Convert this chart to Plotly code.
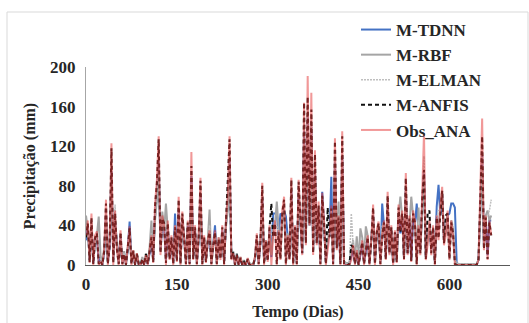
import plotly.graph_objects as go

# Days (3-day sampling of the daily series)
days = list(range(0, 670, 3))

obs_ana = [
    30, 45, 2, 52, 0, 30, 34, 0, 3, 0,
    15, 66, 0, 20, 123, 0, 55, 15, 0, 35,
    0, 10, 0, 20, 39, 0, 15, 0, 12, 0,
    0, 5, 0, 10, 0, 15, 30, 2, 62, 85,
    130, 10, 50, 40, 0, 45, 5, 30, 0, 40,
    3, 69, 0, 54, 30, 0, 45, 0, 114, 5,
    40, 0, 30, 88, 0, 30, 2, 25, 35, 0,
    20, 35, 0, 28, 5, 40, 0, 45, 70, 130,
    5, 12, 0, 10, 0, 8, 0, 2, 0, 7,
    0, 0, 0, 8, 32, 0, 25, 83, 0, 25,
    3, 40, 0, 30, 45, 0, 35, 5, 55, 69,
    0, 30, 5, 88, 0, 40, 0, 86, 50, 10,
    164, 20, 191, 40, 174, 10, 116, 20, 64, 0,
    73, 45, 0, 15, 30, 60, 0, 128, 15, 50,
    0, 135, 0, 0, 0, 0, 5, 20, 0, 15,
    0, 10, 25, 0, 15, 30, 0, 25, 61, 0,
    35, 44, 0, 30, 45, 5, 74, 10, 40, 0,
    35, 2, 61, 35, 55, 5, 93, 10, 50, 3,
    55, 45, 0, 40, 10, 70, 133, 5, 20, 45,
    10, 40, 0, 50, 25, 60, 79, 20, 30, 55,
    5, 45, 30, 0, 0, 0, 0, 0, 0, 0,
    0, 0, 0, 0, 0, 0, 5, 69, 148, 15,
    50, 5, 45, 30,
]

m_anfis = [
    28, 42, 3, 48, 1, 28, 32, 1, 4, 0,
    14, 62, 1, 19, 118, 2, 52, 16, 1, 33,
    1, 11, 0, 18, 37, 1, 14, 0, 11, 1,
    0, 6, 0, 11, 1, 14, 28, 3, 60, 82,
    127, 12, 47, 42, 2, 42, 6, 28, 1, 38,
    4, 66, 1, 52, 28, 1, 43, 1, 100, 6,
    38, 1, 28, 85, 1, 28, 3, 24, 33, 1,
    19, 33, 1, 26, 6, 38, 1, 43, 89, 127,
    6, 13, 0, 11, 0, 7, 0, 3, 0, 6,
    0, 0, 0, 7, 30, 1, 24, 80, 1, 24,
    4, 38, 62, 28, 42, 1, 33, 6, 52, 66,
    1, 28, 6, 86, 1, 38, 1, 84, 48, 12,
    164, 22, 170, 42, 157, 12, 112, 22, 60, 1,
    70, 43, 1, 58, 28, 57, 1, 125, 17, 48,
    1, 130, 1, 0, 0, 1, 20, 18, 1, 13,
    0, 11, 23, 1, 14, 28, 1, 24, 58, 1,
    33, 42, 1, 28, 43, 6, 70, 12, 38, 1,
    33, 3, 58, 33, 52, 6, 88, 12, 47, 4,
    52, 43, 1, 38, 12, 66, 96, 6, 52, 55,
    12, 38, 1, 48, 27, 57, 75, 22, 50, 52,
    6, 43, 32, 1, 0, 0, 0, 0, 0, 0,
    0, 0, 0, 0, 0, 0, 6, 66, 130, 16,
    48, 6, 43, 30,
]

m_tdnn = [
    25, 38, 5, 40, 2, 25, 28, 3, 8, 0,
    12, 50, 3, 18, 95, 5, 44, 20, 2, 28,
    2, 12, 1, 15, 44, 3, 12, 1, 10, 1,
    0, 5, 1, 9, 1, 12, 25, 5, 50, 70,
    105, 15, 40, 38, 5, 38, 8, 25, 2, 52,
    6, 55, 3, 45, 28, 3, 40, 2, 90, 8,
    35, 3, 25, 72, 3, 25, 5, 22, 30, 2,
    18, 40, 2, 25, 8, 35, 3, 40, 60, 105,
    8, 12, 1, 10, 1, 6, 0, 3, 0, 5,
    1, 0, 0, 6, 25, 3, 22, 68, 3, 22,
    6, 35, 8, 52, 52, 52, 30, 52, 50, 55,
    49, 28, 8, 75, 3, 35, 2, 72, 45, 12,
    135, 25, 150, 40, 140, 15, 95, 22, 55, 3,
    74, 40, 3, 25, 30, 89, 3, 105, 18, 45,
    3, 110, 3, 1, 1, 2, 8, 15, 2, 12,
    1, 12, 20, 3, 15, 25, 2, 22, 50, 3,
    30, 38, 3, 62, 40, 8, 62, 12, 35, 2,
    30, 5, 50, 32, 48, 8, 78, 12, 45, 5,
    48, 40, 62, 35, 15, 58, 95, 8, 30, 40,
    15, 35, 3, 59, 81, 50, 72, 25, 35, 50,
    52, 62, 62, 58, 2, 1, 1, 1, 1, 1,
    1, 1, 1, 1, 1, 1, 5, 55, 110, 18,
    45, 10, 45, 45,
]

m_rbf = [
    50, 35, 6, 42, 4, 22, 30, 49, 10, 1,
    18, 45, 3, 25, 90, 8, 40, 22, 3, 25,
    3, 14, 2, 18, 30, 4, 15, 2, 12, 2,
    1, 8, 2, 12, 2, 18, 45, 8, 45, 65,
    95, 18, 54, 35, 62, 35, 10, 25, 4, 35,
    8, 50, 4, 42, 30, 4, 38, 4, 80, 10,
    30, 4, 28, 65, 4, 28, 6, 25, 56, 3,
    22, 30, 3, 28, 10, 32, 4, 38, 55, 95,
    10, 14, 2, 12, 2, 8, 1, 5, 1, 6,
    2, 1, 1, 8, 22, 5, 25, 60, 4, 25,
    8, 30, 10, 35, 40, 64, 30, 10, 45, 55,
    8, 32, 10, 65, 4, 38, 3, 65, 45, 15,
    120, 25, 140, 40, 125, 15, 90, 22, 55, 4,
    60, 42, 4, 25, 32, 50, 4, 95, 20, 64,
    4, 100, 4, 2, 2, 3, 15, 25, 4, 29,
    4, 37, 28, 5, 39, 30, 4, 28, 48, 5,
    32, 40, 4, 35, 42, 8, 58, 12, 38, 3,
    32, 6, 50, 69, 48, 8, 75, 12, 45, 69,
    50, 45, 5, 58, 15, 55, 90, 8, 28, 42,
    15, 38, 4, 45, 40, 55, 75, 25, 35, 50,
    10, 45, 35, 5, 2, 1, 1, 1, 1, 1,
    1, 1, 1, 1, 1, 1, 5, 50, 100, 20,
    50, 55, 45, 50,
]

m_elman = [
    40, 40, 4, 45, 2, 25, 30, 6, 6, 0,
    15, 55, 2, 22, 105, 4, 61, 18, 2, 30,
    2, 12, 1, 17, 35, 2, 14, 1, 11, 1,
    0, 6, 1, 10, 1, 15, 32, 4, 55, 75,
    115, 14, 45, 40, 3, 40, 7, 28, 2, 40,
    5, 60, 2, 50, 28, 2, 42, 2, 95, 7,
    36, 2, 28, 80, 2, 28, 4, 25, 40, 2,
    20, 33, 2, 27, 7, 36, 2, 42, 75, 115,
    7, 13, 1, 11, 1, 7, 0, 4, 0, 6,
    1, 0, 0, 7, 28, 2, 24, 75, 2, 24,
    5, 36, 30, 32, 45, 40, 33, 7, 50, 62,
    3, 30, 7, 80, 2, 38, 2, 80, 48, 13,
    150, 22, 165, 42, 150, 13, 105, 22, 60, 2,
    68, 43, 2, 30, 30, 55, 2, 115, 18, 52,
    2, 120, 2, 1, 1, 2, 52, 20, 2, 18,
    1, 20, 25, 2, 25, 30, 2, 25, 55, 2,
    33, 42, 2, 40, 43, 7, 68, 12, 38, 2,
    33, 4, 55, 45, 52, 7, 85, 12, 47, 40,
    52, 44, 4, 45, 12, 62, 110, 7, 30, 45,
    12, 38, 2, 48, 55, 55, 76, 22, 33, 53,
    8, 45, 40, 2, 1, 1, 1, 1, 1, 1,
    1, 1, 1, 1, 1, 1, 6, 62, 125, 18,
    48, 50, 55, 66,
]

x_ticks = [0, 150, 300, 450, 600]
y_ticks = [0, 40, 80, 120, 160, 200]

FONT = "Liberation Serif"

fig = go.Figure()
fig.add_trace(go.Scatter(x=days, y=m_tdnn, mode="lines", name="M-TDNN",
                         line=dict(color="#4472C4", width=2), legendrank=1))
fig.add_trace(go.Scatter(x=days, y=m_rbf, mode="lines", name="M-RBF",
                         line=dict(color="#A5A5A5", width=2), legendrank=2))
fig.add_trace(go.Scatter(x=days, y=m_elman, mode="lines", name="M-ELMAN",
                         line=dict(color="#BFBFBF", width=1.5, dash="2px,1px"), legendrank=3))
fig.add_trace(go.Scatter(x=days, y=m_anfis, mode="lines", name="M-ANFIS",
                         line=dict(color="#111111", width=2, dash="4px,3px"), legendrank=4))
fig.add_trace(go.Scatter(x=days, y=obs_ana, mode="lines", name="Obs_ANA",
                         line=dict(color="rgba(228,50,50,0.5)", width=2), legendrank=5))

fig.update_layout(
    width=529, height=323,
    margin=dict(l=86, r=19, t=67, b=58),
    paper_bgcolor="white", plot_bgcolor="white",
    font=dict(family=FONT, size=17, color="#262626", weight="bold"),
    showlegend=True,
    legend=dict(x=(356 - 86) / 424, y=(265 - 12) / 198, xanchor="left", yanchor="top",
                bgcolor="rgba(0,0,0,0)", font=dict(family=FONT, size=17, color="#262626", weight="bold"),
                tracegroupgap=0, itemwidth=30),
    xaxis=dict(range=[0, 700], tickvals=x_ticks, showgrid=False, zeroline=False,
               showline=True, linecolor="#595959", linewidth=1, ticks="",
               tickfont=dict(family=FONT, size=17, weight="bold"), ticklabelstandoff=4,
               title=dict(text="Tempo (Dias)", font=dict(family=FONT, size=16, weight="bold"), standoff=12),
               automargin=False),
    yaxis=dict(range=[0, 200], tickvals=y_ticks, showgrid=False, zeroline=False,
               showline=True, linecolor="#A6A6A6", linewidth=1, ticks="",
               tickfont=dict(family=FONT, size=17, weight="bold"), ticklabelstandoff=6,
               title=dict(text="Precipitação (mm)", font=dict(family=FONT, size=16, weight="bold"), standoff=10),
               automargin=False),
    shapes=[dict(type="rect", xref="paper", yref="paper",
                 x0=(7 - 86) / 424, x1=(528 - 86) / 424,
                 y0=(265 - 326) / 198, y1=(265 - 12) / 198,
                 line=dict(color="#D9D9D9", width=1), fillcolor="rgba(0,0,0,0)", layer="below")],
)

fig.write_html("out.html")
